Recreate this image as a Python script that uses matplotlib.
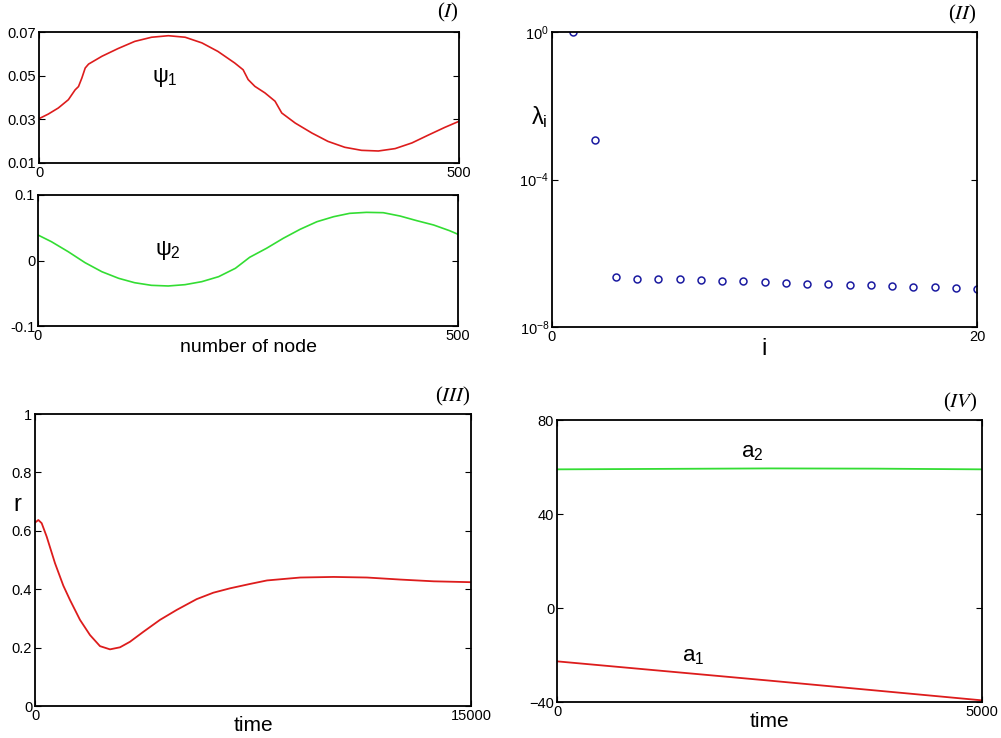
import matplotlib
matplotlib.use("Agg")
import matplotlib.pyplot as plt
import numpy as np

plt.rcParams['font.family'] = ['Liberation Sans', 'DejaVu Sans']
plt.rcParams['mathtext.fontset'] = 'custom'
plt.rcParams['mathtext.rm'] = 'Liberation Sans'
plt.rcParams['mathtext.it'] = 'Liberation Sans'

# ---- data ----
# (I) eigenvectors psi1, psi2 vs node
node1 = [0, 11, 23, 35, 43, 47, 51, 55, 59, 75, 94, 114, 134, 154, 174, 194, 213, 233, 243,
         249, 257, 269, 281, 289, 305, 325, 344, 364, 384, 404, 424, 444, 463, 483, 500]
psi1 = [0.0303, 0.0324, 0.0352, 0.039, 0.0435, 0.045, 0.0489, 0.0535, 0.0553, 0.0589, 0.0624,
        0.0657, 0.0676, 0.0683, 0.0676, 0.065, 0.0611, 0.0558, 0.0527, 0.0482, 0.0451, 0.0421,
        0.0383, 0.0329, 0.0283, 0.0237, 0.0199, 0.0172, 0.0158, 0.0155, 0.0166, 0.0192, 0.0227,
        0.0263, 0.0291]
node2 = [0, 16, 36, 56, 76, 96, 115, 135, 155, 175, 195, 215, 235, 252, 272, 292, 312, 332,
         352, 371, 391, 411, 431, 451, 471, 490, 500]
psi2 = [0.0389, 0.0287, 0.0134, -0.0033, -0.0171, -0.0272, -0.0339, -0.0379, -0.0389, -0.0369,
        -0.0323, -0.0247, -0.0119, 0.0049, 0.0186, 0.0339, 0.0476, 0.0592, 0.0669, 0.072,
        0.0735, 0.073, 0.0679, 0.0608, 0.0542, 0.0455, 0.0400]

# (II) eigenvalues (log10)
idx = list(range(1, 21))
log_lam = [0.0, -2.92, -6.655, -6.69, -6.71, -6.71, -6.73, -6.76, -6.76, -6.78,
           -6.80, -6.83, -6.84, -6.86, -6.87, -6.89, -6.91, -6.91, -6.93, -6.96]

# (III) order parameter r vs time
t_r = [0, 115, 230, 402, 688, 975, 1204, 1548, 1892, 2236, 2580, 2924, 3268, 3727, 4300,
       4874, 5562, 6135, 6709, 7397, 7982, 9128, 10275, 11422, 12569, 13716, 15000]
r = [0.628, 0.637, 0.626, 0.580, 0.489, 0.412, 0.363, 0.295, 0.243, 0.205, 0.194, 0.201,
     0.220, 0.254, 0.295, 0.329, 0.366, 0.388, 0.403, 0.418, 0.430, 0.440, 0.442, 0.440,
     0.433, 0.427, 0.424]

# (IV) a1, a2 vs time
t_a = [0, 1250, 2500, 3750, 5000]
a1 = [-22.7, -26.8, -30.9, -35.1, -39.3]
a2 = [59.0, 59.2, 59.4, 59.3, 59.0]

W, H = 1001, 738
fig = plt.figure(figsize=(W / 100, H / 100), dpi=100)

def px_axes(l, t, r_, b):
    return fig.add_axes([l / W, 1 - b / H, (r_ - l) / W, (b - t) / H])

def style(ax):
    ax.tick_params(direction='in', top=True, right=True, length=4, labelsize=10.5, pad=2)
    for s in ax.spines.values():
        s.set_linewidth(1.3)

def tag(ax, num, x, y):
    ax.text(x, y, '(' + r'$\it{' + num + '}$' + ')', transform=ax.transAxes,
            family='Liberation Serif', math_fontfamily='stix', fontsize=15,
            ha='right', va='bottom')

red = '#dd1c1c'
green = '#33dd33'

# (I) top
ax1 = px_axes(39, 32, 459, 163)
ax1.plot(node1, psi1, color=red, lw=1.2)
ax1.set_xlim(0, 500)
ax1.set_ylim(0.01, 0.07)
ax1.set_xticks([0, 500])
ax1.set_yticks([0.01, 0.03, 0.05, 0.07])
ax1.set_yticklabels(['0.01', '0.03', '0.05', '0.07'])
style(ax1)
ax1.text(150, 0.049, r'$\psi_1$', fontsize=16, ha='center', va='center')
tag(ax1, 'I', 1.0, 1.06)

# (I) bottom
ax2 = px_axes(38, 195, 458, 326)
ax2.plot(node2, psi2, color=green, lw=1.2)
ax2.set_xlim(0, 500)
ax2.set_ylim(-0.1, 0.1)
ax2.set_xticks([0, 500])
ax2.set_yticks([-0.1, 0, 0.1])
ax2.set_yticklabels(['-0.1', '0', '0.1'])
style(ax2)
ax2.text(155, 0.016, r'$\psi_2$', fontsize=16, ha='center', va='center')
ax2.set_xlabel('number of node', fontsize=14, labelpad=-3)

# (II)
ax3 = px_axes(552, 32, 977, 327)
ax3.semilogy(idx, 10.0 ** np.array(log_lam), 'o', mfc='none', mec='#1a1aa0', ms=5, mew=1.1)
ax3.set_xlim(0, 20)
ax3.set_ylim(1e-8, 1)
ax3.set_xticks([0, 20])
ax3.set_yticks([1e-8, 1e-4, 1])
ax3.minorticks_off()
style(ax3)
ax3.set_xlabel('i', fontsize=17, labelpad=-4)
ax3.text(-0.03, 0.71, r'$\lambda_i$', transform=ax3.transAxes, fontsize=17, ha='center', va='center')
tag(ax3, 'II', 1.0, 1.02)

# (III)
ax4 = px_axes(35, 414, 471, 706)
ax4.plot(t_r, r, color=red, lw=1.3)
ax4.set_xlim(0, 15000)
ax4.set_ylim(0, 1)
ax4.set_xticks([0, 15000])
ax4.set_yticks([0, 0.2, 0.4, 0.6, 0.8, 1])
ax4.set_yticklabels(['0', '0.2', '0.4', '0.6', '0.8', '1'])
style(ax4)
ax4.set_xlabel('time', fontsize=15, labelpad=-5)
ax4.text(-0.04, 0.69, 'r', transform=ax4.transAxes, fontsize=17, ha='center', va='center')
tag(ax4, 'III', 1.0, 1.02)

# (IV)
ax5 = px_axes(557, 420, 982, 702)
ax5.plot(t_a, a2, color=green, lw=1.3)
ax5.plot(t_a, a1, color=red, lw=1.3)
ax5.set_xlim(0, 5000)
ax5.set_ylim(-40, 80)
ax5.set_xticks([0, 5000])
ax5.set_yticks([-40, 0, 40, 80])
style(ax5)
ax5.text(2300, 66, r'$a_2$', fontsize=16, ha='center', va='center')
ax5.text(1600, -20.5, r'$a_1$', fontsize=16, ha='center', va='center')
ax5.set_xlabel('time', fontsize=15, labelpad=-5)
tag(ax5, 'IV', 0.99, 1.02)

fig.savefig('out.png', dpi=100)
